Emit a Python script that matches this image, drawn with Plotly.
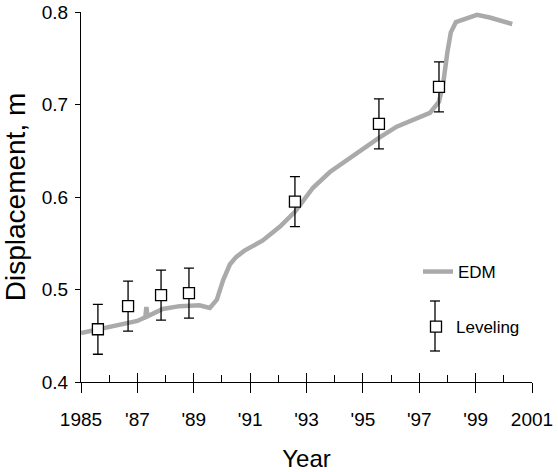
import plotly.graph_objects as go

# ---- data ----
edm_year = [1985.0, 1985.5, 1986.0, 1986.6, 1987.0, 1987.28, 1987.32, 1987.36, 1987.9, 1988.5,
            1989.2, 1989.57, 1989.82, 1990.04, 1990.28, 1990.5, 1990.8, 1991.45, 1992.06, 1992.59,
            1993.23, 1993.83, 1994.43, 1995.0, 1995.57, 1996.2, 1996.77, 1997.38, 1997.7,
            1997.85, 1998.0, 1998.12, 1998.3, 1998.7, 1999.05, 1999.5, 1999.85, 2000.3]
edm_disp = [0.453, 0.456, 0.460, 0.463, 0.466, 0.470, 0.481, 0.471, 0.479, 0.482,
            0.483, 0.480, 0.489, 0.510, 0.527, 0.535, 0.542, 0.553, 0.568, 0.584,
            0.610, 0.627, 0.640, 0.653, 0.664, 0.676, 0.683, 0.691, 0.703,
            0.723, 0.757, 0.778, 0.789, 0.793, 0.797, 0.794, 0.791, 0.787]

lev_year = [1985.6, 1986.67, 1987.84, 1988.83, 1992.59, 1995.57, 1997.7]
lev_disp = [0.457, 0.482, 0.494, 0.496, 0.595, 0.679, 0.719]
lev_err = [0.027, 0.027, 0.027, 0.027, 0.027, 0.027, 0.027]

x_tickvals = [1985, 1987, 1989, 1991, 1993, 1995, 1997, 1999, 2001]
x_ticktext = ["1985", "'87", "'89", "'91", "'93", "'95", "'97", "'99", "2001"]
x_minorvals = [1986, 1988, 1990, 1992, 1994, 1996, 1998, 2000]
y_tickvals = [0.4, 0.5, 0.6, 0.7, 0.8]
y_ticktext = ["0.4", "0.5", "0.6", "0.7", "0.8"]

FONT = "Liberation Sans, Arial, sans-serif"
W, H = 558, 472
ML, MR, MT, MB = 81, 26, 12, 90
PW, PH = W - ML - MR, H - MT - MB

fig = go.Figure()
fig.add_trace(go.Scatter(
    x=edm_year, y=edm_disp, mode="lines", name="EDM", showlegend=True,
    line=dict(color="#aaaaaa", width=4.5), legend="legend", xaxis="x", yaxis="y"))
fig.add_trace(go.Scatter(
    x=lev_year, y=lev_disp, mode="markers", name="Leveling", showlegend=True,
    marker=dict(symbol="square", size=11, color="white", line=dict(color="black", width=1.3)),
    error_y=dict(type="data", array=lev_err, color="black", thickness=1.3, width=5),
    legend="legend2", xaxis="x2", yaxis="y"))

def px2paper_x(px):
    return (px - ML) / PW

def px2paper_y(py):
    return (MT + PH - py) / PH

fig.update_layout(
    width=W, height=H,
    margin=dict(l=ML, r=MR, t=MT, b=MB),
    paper_bgcolor="white", plot_bgcolor="white",
    font=dict(family=FONT, color="black"),
    showlegend=True,
    xaxis=dict(range=[1985, 2001], tickmode="array", tickvals=x_tickvals, ticktext=x_ticktext,
               ticks="outside", ticklen=10, tickwidth=1.3, tickcolor="black", automargin=False,
               showline=True, linecolor="black", linewidth=1.3, showgrid=False, zeroline=False,
               tickfont=dict(size=19, family=FONT), ticklabelstandoff=10,
               title=dict(text="Year", font=dict(size=24, family=FONT), standoff=21)),
    xaxis2=dict(range=[1985, 2001], overlaying="x", anchor="y", side="bottom", automargin=False,
                tickmode="array", tickvals=x_tickvals, ticks="inside", ticklen=9, tickwidth=1.3,
                tickcolor="black", showticklabels=False, showline=False, showgrid=False,
                zeroline=False,
                minor=dict(tickmode="array", tickvals=x_minorvals, ticks="inside", ticklen=7,
                           tickwidth=1.3, tickcolor="black", showgrid=False)),
    yaxis=dict(range=[0.4, 0.8], tickmode="array", tickvals=y_tickvals, ticktext=y_ticktext,
               ticks="outside", ticklen=5, tickwidth=1.3, tickcolor="black", automargin=False,
               showline=True, linecolor="black", linewidth=1.3, showgrid=False, zeroline=False,
               tickfont=dict(size=19, family=FONT), ticklabelstandoff=3,
               title=dict(text="Displacement, m", font=dict(size=28, family=FONT), standoff=8)),
    legend=dict(x=px2paper_x(418), y=px2paper_y(272), xanchor="left", yanchor="middle",
                bgcolor="rgba(0,0,0,0)", font=dict(size=17, family=FONT)),
    legend2=dict(x=px2paper_x(416), y=px2paper_y(327), xanchor="left", yanchor="middle",
                 bgcolor="rgba(0,0,0,0)", font=dict(size=17, family=FONT)),
)

# error bar decoration for the Leveling legend key
kx, ktop, kbot, cap = 435, 301, 351, 5
fig.add_shape(type="line", xref="paper", yref="paper",
              x0=px2paper_x(kx), x1=px2paper_x(kx), y0=px2paper_y(ktop), y1=px2paper_y(kbot),
              line=dict(color="black", width=1.3))
for yy in (ktop, kbot):
    fig.add_shape(type="line", xref="paper", yref="paper",
                  x0=px2paper_x(kx - cap), x1=px2paper_x(kx + cap), y0=px2paper_y(yy), y1=px2paper_y(yy),
                  line=dict(color="black", width=1.3))

fig.write_html("out.html", config={"displayModeBar": False},
               post_script="document.body.style.margin='0px';")
